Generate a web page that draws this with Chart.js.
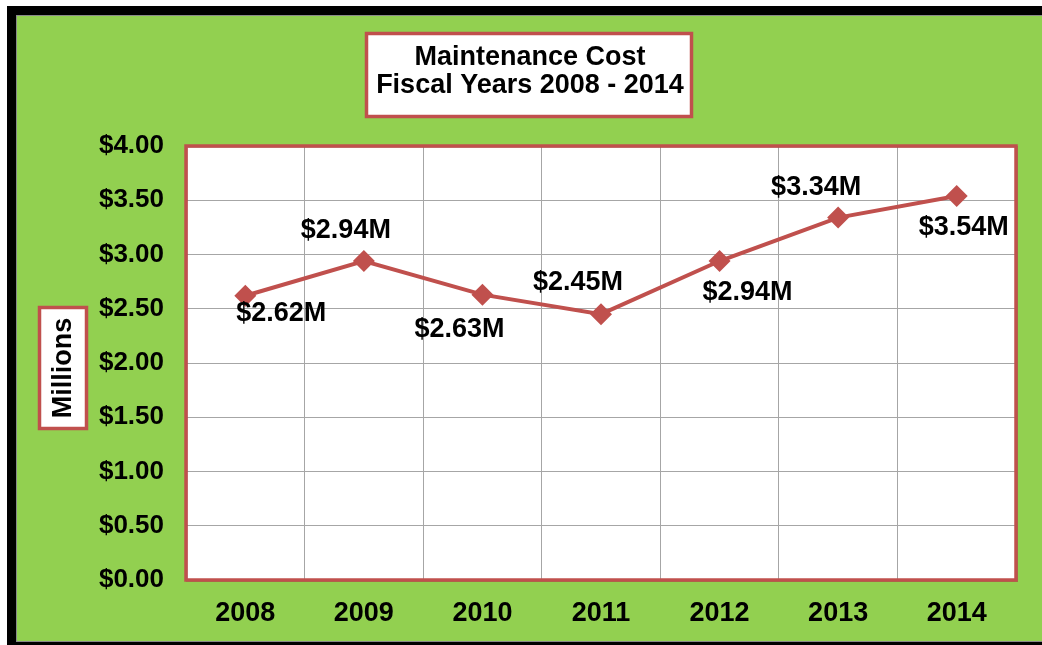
<!DOCTYPE html>
<html>
<head>
<meta charset="utf-8">
<script src="https://cdn.jsdelivr.net/npm/chart.js@4.4.1/dist/chart.umd.min.js"></script>
<style>
  html, body { margin: 0; padding: 0; background: #ffffff; }
  #wrap { position: relative; width: 1042px; height: 645px; }
</style>
</head>
<body>
<div id="wrap"><canvas id="costChart" width="1042" height="645"></canvas></div>
<script>
// chart data
const YEARS = ["2008", "2009", "2010", "2011", "2012", "2013", "2014"];
const COST_MILLIONS = [2.62, 2.94, 2.63, 2.45, 2.94, 3.34, 3.54];
const TITLE_LINES = ["Maintenance Cost", "Fiscal Years 2008 - 2014"];
const Y_TITLE = "Millions";

// where each value label sits relative to its point (px)
const LABEL_OFFSETS = [[36, 18], [-18, -30], [-23, 35], [-23, -32], [28, 32], [-22, -30], [7, 32]];

const RED = "#C0504D";
const GREEN = "#92D050";
const FONT = "'Liberation Sans', Arial, sans-serif";

// ==============================
// BACKGROUND + BOXES
// ==============================
const framePlugin = {
  id: "frame",
  beforeDraw(chart) {
    const ctx = chart.ctx;
    const a = chart.chartArea;
    ctx.save();
    ctx.fillStyle = "#ffffff";
    ctx.fillRect(0, 0, 1042, 645);
    ctx.fillStyle = "#000000";
    ctx.fillRect(7, 6, 1035, 639);
    ctx.fillStyle = "#8a8a8a";
    ctx.fillRect(16, 15, 1026, 627);
    ctx.fillStyle = GREEN;
    ctx.fillRect(17, 16, 1025, 625);

    // plot area
    ctx.fillStyle = "#ffffff";
    ctx.fillRect(a.left, a.top, a.right - a.left, a.bottom - a.top);

    // title box
    ctx.fillStyle = "#ffffff";
    ctx.fillRect(365, 32, 328, 86);
    ctx.strokeStyle = RED;
    ctx.lineWidth = 3.5;
    ctx.strokeRect(366.5, 33.5, 325, 83);
    ctx.fillStyle = "#000000";
    ctx.font = "bold 27px " + FONT;
    ctx.textAlign = "center";
    ctx.textBaseline = "middle";
    ctx.fillText(TITLE_LINES[0], 530, 58);
    ctx.fillText(TITLE_LINES[1], 530, 86);

    // y axis title box
    ctx.fillStyle = "#ffffff";
    ctx.fillRect(38, 306, 50, 124);
    ctx.strokeRect(39.5, 307.5, 47, 121);
    ctx.translate(63, 368);
    ctx.rotate(-Math.PI / 2);
    ctx.fillStyle = "#000000";
    ctx.fillText(Y_TITLE, 0, 1);
    ctx.restore();
  },
  afterDraw(chart) {
    const ctx = chart.ctx;
    const a = chart.chartArea;
    ctx.save();
    ctx.strokeStyle = "rgba(90,40,40,0.35)";
    ctx.lineWidth = 2;
    ctx.strokeRect(a.left + 1, a.top + 1, a.right - a.left, a.bottom - a.top);
    ctx.strokeStyle = RED;
    ctx.lineWidth = 3.5;
    ctx.strokeRect(a.left, a.top, a.right - a.left, a.bottom - a.top);
    ctx.restore();
  }
};

// ==============================
// VALUE LABELS
// ==============================
const valueLabelPlugin = {
  id: "valueLabels",
  afterDatasetsDraw(chart) {
    const ctx = chart.ctx;
    const meta = chart.getDatasetMeta(0);
    ctx.save();
    ctx.font = "bold 27px " + FONT;
    ctx.fillStyle = "#000000";
    ctx.textAlign = "center";
    ctx.textBaseline = "middle";
    meta.data.forEach((pt, i) => {
      const off = LABEL_OFFSETS[i];
      const txt = "$" + COST_MILLIONS[i].toFixed(2) + "M";
      ctx.fillText(txt, pt.x + off[0], pt.y + off[1]);
    });
    ctx.restore();
  }
};

new Chart(document.getElementById("costChart"), {
  type: "line",
  data: {
    labels: YEARS,
    datasets: [{
      label: "Maintenance Cost",
      data: COST_MILLIONS,
      borderColor: RED,
      backgroundColor: RED,
      borderWidth: 4,
      pointStyle: "rectRot",
      pointRadius: 11,
      pointBorderWidth: 0,
      pointBackgroundColor: RED,
      tension: 0
    }]
  },
  options: {
    responsive: false,
    animation: false,
    events: [],
    layout: { padding: { top: 146, right: 26, bottom: 0, left: 0 } },
    plugins: {
      legend: { display: false },
      title: { display: false },
      tooltip: { enabled: false }
    },
    scales: {
      x: {
        offset: true,
        grid: { offset: true, color: "#a6a6a6", lineWidth: 1, drawTicks: false },
        border: { display: false },
        ticks: {
          color: "#000000",
          padding: 17,
          font: { family: FONT, size: 27, weight: "bold" }
        },
        afterFit(scale) { scale.height = 65; }
      },
      y: {
        min: 0,
        max: 4,
        grid: { color: "#a6a6a6", lineWidth: 1, drawTicks: false },
        border: { display: false },
        ticks: {
          stepSize: 0.5,
          color: "#000000",
          padding: 22,
          font: { family: FONT, size: 26, weight: "bold" },
          callback: v => "$" + Number(v).toFixed(2)
        },
        afterFit(scale) { scale.width = 186; }
      }
    }
  },
  plugins: [framePlugin, valueLabelPlugin]
});
</script>
</body>
</html>
